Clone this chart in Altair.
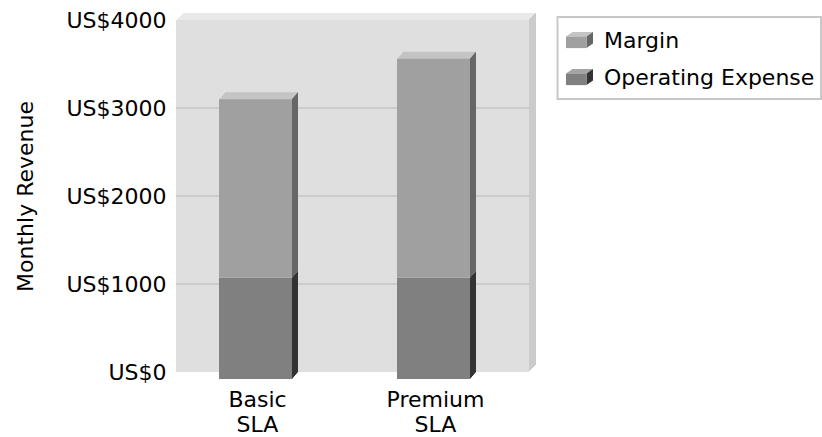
import altair as alt
import pandas as pd

# ---- data ----------------------------------------------------------------
categories = ["Basic SLA", "Premium SLA"]
operating_expense = [1150, 1150]
margin = [2030, 2490]

series_names = ["Margin", "Operating Expense"]
front_colors = ["#a0a0a0", "#808080"]
top_colors = ["#c4c4c4", "#a4a4a4"]
side_colors = ["#666666", "#333333"]

y_tick_values = [0, 1000, 2000, 3000, 4000]
grid_values = [1000, 2000, 3000]

# ---- styling -------------------------------------------------------------
FONT = "DejaVu Sans"
FS = 22
W, H = 353, 352            # back wall (plot area)
DX, DY = 6, 7              # depth of the bars
STEPS = 6
WALL_DEPTH = 7
WALL = "#dfdfdf"
WALL_TOP = "#e9e9e9"
WALL_SIDE = "#cbcbcb"
GRID = "#cbcbcb"
LEGEND_BORDER = "#c8c8c8"

rows = []
for cat, oe, mg in zip(categories, operating_expense, margin):
    for name, lo, hi in (("Operating Expense", 0, oe), ("Margin", oe, oe + mg)):
        k = series_names.index(name)
        rows.append({"category": cat, "series": name, "lo": lo, "hi": hi,
                     "front": front_colors[k], "topc": top_colors[k],
                     "side": side_colors[k]})
bars = pd.DataFrame(rows)
one = pd.DataFrame({"k": [0]})

x_scale = alt.Scale(domain=categories, paddingInner=0.59, paddingOuter=0.2865,
                    align=0.48, round=True)
y_scale = alt.Scale(domain=[0, 4000], nice=False)

y_axis = alt.Axis(values=y_tick_values, labelExpr="'US$' + datum.value",
                  ticks=False, tickSize=0, domain=False, grid=False,
                  labelFont=FONT, labelFontSize=FS, labelColor="#000",
                  labelPadding=10, titleFont=FONT, titleFontSize=FS,
                  titleFontWeight="normal", titleColor="#000", titlePadding=28)
x_axis = alt.Axis(labelExpr="split(datum.label, ' ')", ticks=False, tickSize=0,
                  domain=False, grid=False, labelAngle=0, labelFont=FONT,
                  labelFontSize=FS, labelColor="#000", labelPadding=17,
                  labelLineHeight=25.5, labelOffset=-4)
Y_TITLE = "Monthly Revenue"


def xpos(**kw):
    return alt.X("category:N", scale=x_scale, axis=x_axis, title=None, **kw)


def ypos(field="lo"):
    return alt.Y(f"{field}:Q", scale=y_scale, axis=y_axis, title=Y_TITLE)


layers = []

# wall thickness: top edge then right edge
for i in range(1, WALL_DEPTH + 1):
    layers.append(alt.Chart(one).mark_rect(color=WALL_TOP).encode(
        x=alt.value(i), x2=alt.value(W + i), y=alt.value(-i), y2=alt.value(H - i)))
for j in range(1, WALL_DEPTH + 1):
    layers.append(alt.Chart(one).mark_rect(color=WALL_SIDE).encode(
        x=alt.value(W + j - 1), x2=alt.value(W + j),
        y=alt.value(-j), y2=alt.value(H - j)))

# back wall
layers.append(alt.Chart(one).mark_rect(color=WALL).encode(
    x=alt.value(0), x2=alt.value(W), y=alt.value(0), y2=alt.value(H)))

# gridlines on the wall
layers.append(alt.Chart(pd.DataFrame({"v": grid_values})).mark_rule(
    color=GRID, strokeWidth=2).encode(
    y=ypos("v"), x=alt.value(0), x2=alt.value(W)))

top_series = series_names[0]

# top faces of the stacks
for i in range(1, STEPS + 1):
    off_y = DY - DY * i / STEPS
    layers.append(alt.Chart(bars).transform_filter(
        alt.datum.series == top_series).mark_bar(
        xOffset=-DX + i, x2Offset=-DX + i, yOffset=off_y, y2Offset=off_y).encode(
        x=xpos(), y=ypos(), y2="hi", fill=alt.Fill("topc:N", scale=None)))

# right-hand side faces
for i in range(1, STEPS + 1):
    off_y = DY - DY * (i - 0.5) / STEPS
    layers.append(alt.Chart(bars).mark_rule(
        strokeWidth=1.05, xOffset=-DX + i - 0.5, yOffset=off_y,
        y2Offset=off_y).encode(
        x=xpos(bandPosition=1), y=ypos(), y2="hi",
        stroke=alt.Stroke("side:N", scale=None)))

# front faces
layers.append(alt.Chart(bars).mark_bar(
    xOffset=-DX, x2Offset=-DX, yOffset=DY, y2Offset=DY).encode(
    x=xpos(), y=ypos(), y2="hi", fill=alt.Fill("front:N", scale=None)))

# legend
LEG_X0, LEG_X1, LEG_Y0, LEG_Y1 = 381.5, 645, -3, 79
CUBE_X, TEXT_X = 403.5, 428
ROW_Y0, ROW_GAP = 20, 37
CUBE_SIZE = 27 * 27
cube_top = "M -1 -0.26 L 0.52 -0.26 L 1 -0.6 L -0.52 -0.6 Z"
cube_side = "M 0.52 -0.26 L 1 -0.6 L 1 0.26 L 0.52 0.6 Z"
cube_front = "M -1 -0.26 L 0.52 -0.26 L 0.52 0.6 L -1 0.6 Z"

layers.append(alt.Chart(one).mark_rect(
    fill="white", stroke=LEGEND_BORDER, strokeWidth=2).encode(
    x=alt.value(LEG_X0), x2=alt.value(LEG_X1),
    y=alt.value(LEG_Y0), y2=alt.value(LEG_Y1)))

for k, name in enumerate(series_names):
    cy = ROW_Y0 + k * ROW_GAP
    for path, col in ((cube_top, top_colors[k]), (cube_side, side_colors[k]),
                      (cube_front, front_colors[k])):
        layers.append(alt.Chart(one).mark_point(
            shape=path, size=CUBE_SIZE, filled=True, opacity=1,
            strokeWidth=0).encode(
            x=alt.value(CUBE_X), y=alt.value(cy), fill=alt.value(col)))
    layers.append(alt.Chart(one).mark_text(
        text=name, font=FONT, fontSize=FS, align="left", baseline="middle",
        color="#000").encode(x=alt.value(TEXT_X), y=alt.value(cy + 1)))

chart = alt.layer(*layers).properties(
    width=W, height=H,
    autosize=alt.AutoSizeParams(type="none"),
    padding={"left": 176, "top": 20, "right": 822 - 176 - W,
             "bottom": 437 - 20 - H},
).configure_view(stroke=None)

chart.save("out.html", embed_options={"renderer": "svg", "actions": False})
